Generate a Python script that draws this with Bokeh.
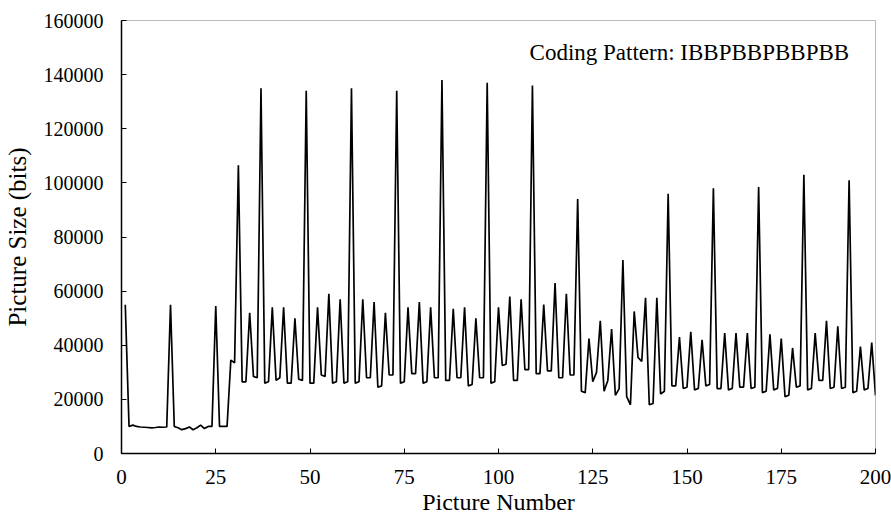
from bokeh.plotting import figure
from bokeh.models import Range1d, Label, FixedTicker, PrintfTickFormatter
from bokeh.embed import file_html
from bokeh.resources import INLINE

# ---- data ----
picture_number = list(range(1, 201))
picture_size = [
    55000, 10000, 10500, 10000, 9800, 9700, 9600, 9500, 9600, 9800,
    9700, 9800, 55000, 10000, 9500, 8800, 9200, 9800, 8800, 9500,
    10500, 9200, 10000, 10000, 54500, 10000, 10000, 10000, 34500, 33500,
    106500, 26500, 26500, 52000, 28500, 28000, 135000, 26000, 26500, 54000,
    27000, 28000, 54000, 26000, 26000, 50000, 27500, 27000, 134000, 26000,
    26000, 54000, 29000, 28500, 59000, 26000, 26500, 57000, 26000, 26500,
    135000, 26000, 26500, 57000, 28000, 28000, 56000, 24500, 25000, 52000,
    29000, 29000, 134000, 26000, 26500, 54000, 29500, 29500, 56000, 26000,
    26500, 54000, 28000, 28000, 138000, 27000, 27000, 53500, 28000, 28000,
    54000, 25000, 25500, 50000, 28000, 28000, 137000, 26000, 26500, 54000,
    32500, 33000, 58000, 27000, 27000, 57000, 31000, 31000, 136000, 29500,
    29500, 55000, 30500, 30500, 63000, 28000, 28000, 59000, 29000, 29000,
    94000, 23000, 22500, 42500, 26500, 30000, 49000, 23000, 27000, 46000,
    21500, 24000, 71500, 21000, 18000, 52500, 35500, 34000, 57500, 18000,
    18500, 57500, 22000, 23000, 96000, 25000, 25000, 43000, 24000, 24500,
    45000, 23500, 24000, 42000, 25000, 25500, 98000, 24000, 24000, 44500,
    23500, 24000, 44500, 24500, 24500, 44500, 24000, 24500, 98500, 22500,
    23000, 44000, 23500, 24000, 42500, 21000, 21500, 39000, 24500, 25000,
    103000, 23500, 24000, 44500, 27000, 27000, 49000, 24000, 24500, 47000,
    24000, 24500, 101000, 22500, 23000, 39500, 23500, 24000, 41000, 21500,
]
x_ticks = [0, 25, 50, 75, 100, 125, 150, 175, 200]
y_ticks = [0, 20000, 40000, 60000, 80000, 100000, 120000, 140000, 160000]
annotation = "Coding Pattern: IBBPBBPBBPBB"

FONT = "Liberation Serif"

p = figure(width=891, height=517, output_backend="svg", toolbar_location=None,
           x_range=Range1d(0, 200), y_range=Range1d(0, 160000),
           min_border_left=120, min_border_right=16,
           min_border_top=20, min_border_bottom=64)

p.line(picture_number, picture_size, line_color="black", line_width=1.7)

p.xgrid.visible = False
p.ygrid.visible = False
p.background_fill_color = "white"
p.border_fill_color = "white"
p.outline_line_color = "#777777"
p.outline_line_dash = "1 1"
p.outline_line_width = 1

for ax, ticks in ((p.xaxis, x_ticks), (p.yaxis, y_ticks)):
    ax.ticker = FixedTicker(ticks=ticks)
    ax.formatter = PrintfTickFormatter(format="%d")
    ax.minor_tick_line_color = None
    ax.major_tick_in = 5
    ax.major_tick_out = 0
    ax.axis_line_color = "black"
    ax.axis_line_width = 1.5
    ax.major_tick_line_color = "black"
    ax.major_label_text_font = FONT
    ax.major_label_text_color = "black"
    ax.axis_label_text_font = FONT
    ax.axis_label_text_font_style = "normal"
    ax.axis_label_text_color = "black"

p.xaxis.axis_label = "Picture Number"
p.yaxis.axis_label = "Picture Size (bits)"
p.xaxis.major_label_text_font_size = "21px"
p.yaxis.major_label_text_font_size = "20px"
p.xaxis.axis_label_text_font_size = "24px"
p.yaxis.axis_label_text_font_size = "25px"
p.xaxis.major_label_standoff = 16
p.yaxis.major_label_standoff = 18
p.xaxis.axis_label_standoff = 2
p.yaxis.axis_label_standoff = 10

p.add_layout(Label(x=193, y=148000, text=annotation, text_align="right",
                   text_baseline="alphabetic", text_font=FONT,
                   text_font_size="23px", text_color="black"))

open("out.html", "w").write(file_html(p, INLINE))
